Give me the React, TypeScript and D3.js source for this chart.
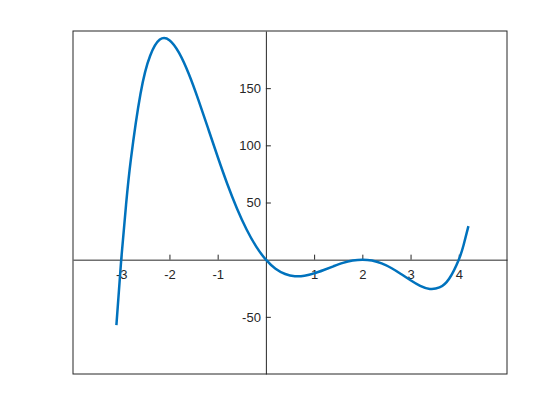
import React, { useEffect, useRef } from 'react';
import * as d3 from 'd3';

// Curve samples
const xValues = [-3.1, -3.0, -2.9, -2.8, -2.6, -2.4, -2.2, -2.0, -1.8, -1.6, -1.4, -1.2, -1.0, -0.8, -0.6, -0.4, -0.2, 0,
  0.2, 0.4, 0.6, 0.8, 1.0, 1.2, 1.4, 1.6, 1.8, 2.0, 2.2, 2.4, 2.6, 2.8, 3.0, 3.2, 3.4, 3.6, 3.8, 4.0, 4.1, 4.2];
const yValues = [-57.3, 0, 48.0, 87.7, 145.2, 178.4, 192.5, 192.0, 180.9, 162.6, 139.8, 115.0, 90.0, 66.2, 44.8, 26.4, 11.4, 0,
  -7.9, -12.5, -14.4, -14.0, -12.0, -9.0, -5.8, -2.8, -0.8, 0, -0.8, -3.3, -7.3, -12.5, -18.0, -22.9, -25.6, -24.3, -16.7, 0, 12.8, 29.3];

const xDomain = [-4, 5];
const yDomain = [-100, 200];
const xTicks = [-3, -2, -1, 1, 2, 3, 4];
const yTicks = [-50, 50, 100, 150];

const W = 560;
const H = 420;
const margin = { top: 31, right: 53, bottom: 46, left: 73 };

const App: React.FC = () => {
  const svgRef = useRef<SVGSVGElement>(null);

  useEffect(() => {
    if (!svgRef.current) return;
    const svg = d3.select(svgRef.current);
    svg.selectAll('*').remove();

    const x = d3.scaleLinear().domain(xDomain).range([margin.left, W - margin.right]);
    const y = d3.scaleLinear().domain(yDomain).range([H - margin.bottom, margin.top]);
    const ink = '#262626';
    const fmt = (d: d3.NumberValue) => String(d); // plain hyphen minus, like MATLAB

    // box
    svg.append('rect')
      .attr('x', x(xDomain[0]))
      .attr('y', y(yDomain[1]))
      .attr('width', x(xDomain[1]) - x(xDomain[0]))
      .attr('height', y(yDomain[0]) - y(yDomain[1]))
      .attr('fill', 'white')
      .attr('stroke', ink)
      .attr('stroke-width', 1);

    // x axis through origin, ticks pointing up
    const xAxis = svg.append('g')
      .attr('transform', `translate(0,${y(0)})`)
      .call(d3.axisBottom(x).tickValues(xTicks).tickSizeInner(-5).tickSizeOuter(0).tickPadding(10).tickFormat(fmt));
    xAxis.select('.domain').attr('stroke', ink);
    xAxis.selectAll('line').attr('stroke', ink);
    xAxis.selectAll('text')
      .attr('fill', ink)
      .style('font-family', 'Arial, "Liberation Sans", sans-serif')
      .style('font-size', '13px');

    // y axis through origin, ticks pointing right
    const yAxis = svg.append('g')
      .attr('transform', `translate(${x(0)},0)`)
      .call(d3.axisLeft(y).tickValues(yTicks).tickSizeInner(-5).tickSizeOuter(0).tickPadding(5).tickFormat(fmt));
    yAxis.select('.domain').attr('stroke', ink);
    yAxis.selectAll('line').attr('stroke', ink);
    yAxis.selectAll('text')
      .attr('fill', ink)
      .style('font-family', 'Arial, "Liberation Sans", sans-serif')
      .style('font-size', '13px');

    const pts: [number, number][] = xValues.map((v, i) => [v, yValues[i]]);
    const line = d3.line<[number, number]>()
      .x(d => x(d[0]))
      .y(d => y(d[1]))
      .curve(d3.curveNatural);

    svg.append('path')
      .datum(pts)
      .attr('d', line)
      .attr('fill', 'none')
      .attr('stroke', '#0072BD')
      .attr('stroke-width', 2.5)
      .attr('stroke-linejoin', 'round');
  }, []);

  return (
    <div style={{ position: 'absolute', left: 0, top: 0, width: W, height: H, background: 'white' }}>
      <svg ref={svgRef} width={W} height={H} style={{ display: 'block' }}></svg>
    </div>
  );
};

export default App;
